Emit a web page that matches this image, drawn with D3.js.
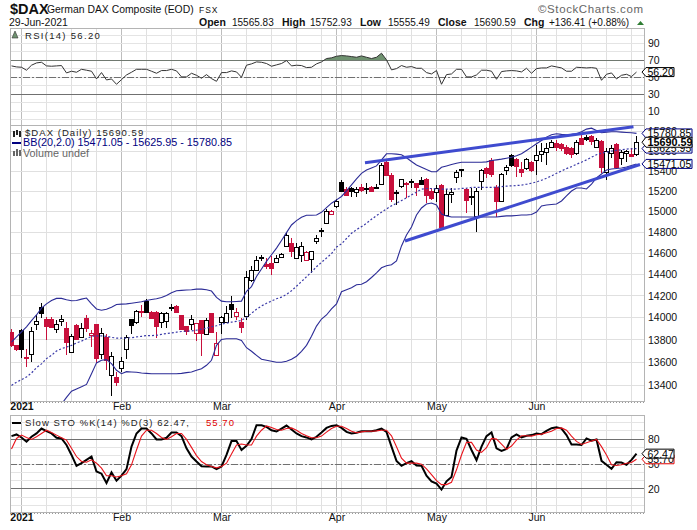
<!DOCTYPE html>
<html><head><meta charset="utf-8">
<script src="https://cdn.jsdelivr.net/npm/d3@7"></script>
<style>html,body{margin:0;padding:0;background:#fff}svg{display:block}text{font-family:"Liberation Sans",Arial,sans-serif}</style>
</head><body><div id="c"></div>
<script>
const opens=[13871,13750,13886,13644,13676,13935,14101,13990,13990,13892,13965,13904,13694,13932,13831,13993,13846,13941,13673,13825,13490,13467,13552,13720,13984,13962,14058,14154,14055,14055,13953,13972,14098,14104,14024,13920,13935,13858,13978,13846,14042,13670,13959,13956,14123,14008,13956,14017,
14342,14442,14562,14499,14505,14512,14562,14663,14694,14553,14578,14540,14543,14710,14817,14892,14969,15048,15295,15219,15226,15189,15239,15232,15245,15245,15275,15492,15361,15189,15245,15278,15298,15278,15314,15321,15203,15186,15262,14966,
15173,15344,15417,15219,15147,14960,15295,15427,15512,15245,15104,15410,15556,15519,15420,15427,15495,15505,15563,15590,15648,15682,15675,15641,15631,15580,15733,15740,15757,15648,15699,15387,15580,15675,15529,15580,15570,15565.83];
const highs=[13895,13755,13901,13720,13917,14024,14132,14002,14002,13978,14024,13959,13849,13938,13947,14024,13892,13945,13910,13849,13691,13514,13647,13840,13986,14070,14117,14169,14061,14061,14048,14055,14126,14117,14027,13920,14024,13950,13978,13993,14045,13871,14014,14107,14200,14086,13993,14427,
14480,14568,14584,14553,14575,14584,14600,14805,14742,14694,14701,14619,14622,14773,14836,15026,15015,15120,15311,15239,15239,15239,15272,15278,15252,15272,15478,15519,15384,15212,15324,15295,15318,15285,15344,15328,15229,15262,15268,15219,
15229,15410,15417,15229,15229,15229,15417,15444,15529,15262,15377,15461,15573,15529,15495,15529,15502,15665,15682,15682,15716,15716,15682,15665,15641,15709,15767,15767,15767,15733,15716,15631,15665,15682,15614,15607,15631,15752.93];
const lows=[13735,13700,13638,13558,13602,13886,13993,13794,13910,13862,13923,13661,13682,13794,13825,13868,13735,13594,13632,13529,13301,13387,13514,13632,13849,13941,14002,14039,13993,13819,13907,13907,14061,14045,13892,13843,13892,13788,13653,13843,13868,13670,13856,13953,13993,13978,13865,13978,
14332,14436,14521,14449,14395,14505,14553,14657,14559,14543,14512,14537,14411,14688,14751,14885,14966,15032,15199,15160,15137,15140,15196,15173,15189,15219,15268,15357,15097,15064,15229,15130,15229,15147,15262,15081,15114,15097,14837,14957,
15081,15278,15344,14982,15064,14804,15212,15328,15337,14950,15097,15360,15444,15344,15337,15410,15393,15360,15495,15461,15631,15597,15597,15563,15529,15563,15665,15699,15665,15631,15377,15311,15529,15437,15461,15495,15539,15555.49];
const closes=[13750,13712,13720,13632,13883,13965,14045,13923,13917,13938,13987,13779,13837,13806,13910,13898,13865,13638,13865,13617,13658,13422,13614,13828,13926,14058,14045,14052,13999,13926,14039,14045,14092,14052,13898,13877,13984,13947,13858,13974,13868,13773,14008,14039,14073,14048,13907,14374,
14439,14534,14556,14480,14458,14550,14590,14770,14616,14657,14663,14613,14616,14742,14811,15005,15002,15101,15206,15163,15199,15222,15206,15229,15206,15239,15461,15361,15120,15183,15318,15272,15291,15239,15278,15163,15130,15229,14853,15170,
15189,15393,15405,15114,15140,15203,15407,15377,15374,15104,15367,15437,15454,15444,15393,15516,15410,15556,15597,15631,15696,15638,15631,15580,15573,15692,15672,15716,15709,15716,15437,15597,15631,15444,15590,15604,15554.18,15690.59];
const priorClose=13900;
const bbUpper=[13779,13825,13871,13917,13972,14024,14086,14126,14157,14176,14176,14163,14154,14157,14169,14179,14126,14079,14067,14076,14095,14120,14123,14126,14132,14138,14145,14157,14166,14172,14185,14203,14228,14247,14250,14253,14256,14262,14262,14256,14244,14185,14151,14145,14145,14148,14151,14241,
14285,14379,14449,14521,14584,14647,14720,14795,14869,14911,14944,14963,14963,14966,14992,15037,15081,15114,15147,15203,15262,15321,15377,15410,15431,15451,15512,15573,15573,15570,15563,15533,15495,15461,15437,15414,15393,15393,15437,15451,
15465,15478,15488,15488,15488,15488,15488,15492,15505,15512,15519,15529,15539,15553,15573,15607,15641,15675,15709,15743,15767,15777,15771,15767,15771,15777,15798,15825,15835,15811,15788,15794,15798,15798,15794,15791,15788,15780.85];
const bbMid=[13396,13425,13446,13470,13505,13552,13585,13632,13661,13700,13720,13735,13750,13771,13788,13809,13831,13834,13834,13831,13821,13815,13815,13815,13819,13825,13831,13837,13837,13840,13849,13856,13862,13868,13874,13877,13880,13886,13895,13904,13917,13926,13941,13950,13959,13965,13975,14002,
14039,14076,14106,14131,14152,14173,14188,14213,14246,14289,14332,14377,14421,14471,14512,14553,14594,14657,14688,14739,14789,14824,14853,14885,14924,14960,14992,15025,15055,15081,15107,15134,15163,15189,15219,15226,15226,15222,15219,15219,
15219,15219,15226,15229,15236,15236,15236,15236,15236,15239,15245,15249,15252,15255,15259,15268,15278,15291,15308,15328,15351,15377,15400,15424,15444,15468,15488,15512,15539,15563,15580,15590,15601,15607,15614,15621,15624,15625.95];
const bbLower=[null,null,null,null,null,null,null,null,null,null,13234,13293,13346,13366,13384,13405,13499,13594,13617,13623,13588,13529,13499,13517,13514,13511,13505,13502,13499,13499,13499,13499,13499,13499,13502,13508,13514,13529,13543,13573,13617,13750,13803,13809,13809,13809,13794,13729,
13697,13661,13626,13617,13608,13599,13599,13608,13626,13653,13697,13750,13831,13923,13987,14024,14080,14126,14238,14256,14275,14303,14307,14331,14370,14414,14461,14480,14489,14526,14668,14773,14850,14966,15034,15073,15083,15063,14976,14957,
14947,14947,14947,14947,14947,14947,14947,14947,14947,14947,14952,14957,14957,14961,14966,14966,14971,14995,15054,15063,15068,15073,15103,15152,15201,15231,15231,15221,15270,15330,15370,15410,15420,15425,15430,15440,15455,15471.05];
const rsiValues=[63.5,62.3,61.9,58.4,64.3,67,67.8,63.5,63.1,63.5,63.9,55.2,57.2,56,59.5,58.4,57.2,48.1,55.6,46.9,48.1,41.8,47.3,52.8,56,59.5,59.5,59.5,57.2,54.8,58,58,59.5,57.6,50.5,50.5,54.8,52.4,48.9,53.2,48.5,45.3,55.6,55.6,57.6,56.4,50.1,64.3,65.9,68.2,67.8,66.3,63.1,64.7,66.3,69.8,63.5,64.3,63.9,61.5,61.9,65.9,68.2,72.2,73,74.9,75.7,75.3,
74.5,73.7,75.3,73.7,72.2,73.7,78.5,70.6,58.8,60.3,63.9,61.9,62.7,60.7,60.7,55.6,54,58,41.8,53.2,54,59.5,59.5,50.5,50.5,52.8,58.4,58.4,57.2,47.7,56.8,57.6,58,57.6,56.4,60.7,54.8,60.3,61.1,61.1,63.5,62.3,61.1,57.2,57.2,61.9,61.5,61.1,61.5,60.7,46.5,53.6,55.2,48.1,52.4,53.6,50.9,56.2];
const stoK=[83.6,85.6,82,76.8,82.8,86.8,92.7,89.5,86.8,81.6,80.8,72.9,60.9,47.8,51,55,59,41,38.3,27.2,39.9,29.9,35.9,43.8,70.9,86.8,92.7,92.7,86.8,79.6,79.6,81.6,88,88,83.6,68.9,59,53,47.4,47,47,43.8,47,60.9,77.6,77.6,66.9,72,80,96.7,96.7,94.7,90.7,89.1,92.7,96.3,91.5,86.8,83.6,82,79.6,82.8,88,93.5,95.9,96.7,93.5,88.7,
86.8,87.6,89.5,89.5,89.5,90.7,92.7,88.7,70.9,53.8,47.8,51,53.4,48.2,47.8,35.9,29.1,26.4,19.2,29.1,34.3,66.1,82,80.4,66.9,54.6,70.9,83.6,88,68.9,65.7,68.1,82,85.6,82,84,84.8,86.8,86,89.9,93.1,94.3,92.7,84.8,73.6,73.6,72.9,80.8,78,79.6,53.8,49,44.2,52.2,51.8,49,55,62.47];
const stoD=[68.1,80.8,84.8,82,79.6,82.8,86.8,90.7,88,84.8,81.6,78.8,68.9,59,53,52.2,55,51,45,35.9,35.9,34.3,35.9,38.3,49,66.9,83.6,90.7,90.7,86.8,82,79.6,82.8,86.8,86.8,79.6,70,60.1,53,49,47,45.4,47,51,62.1,72.9,74,72.9,72.9,83.6,90.7,95.9,93.9,91.5,90.7,92.7,93.5,90.7,86.8,84,81.6,81.6,83.6,88.4,92.7,95.5,95.5,92.7,
89.5,87.6,88.7,89.5,89.5,89.9,90.7,90.7,84,70.9,57,51,51,51,49.8,44.2,37.1,29.9,25.2,25.2,28,43,60.9,76,76,66.9,64.1,69.7,80.8,80,74,67.7,71.7,78.8,84,84,83.6,85.2,86,87.6,89.5,92.7,93.5,90.7,83.6,77.2,73.6,75.6,77.6,79.6,70.9,60.9,49,48.2,49,51,51.8,55.7];
const monthIndex=[2,22,42,65,85,105];
const monthLabels=["2021","Feb","Mar","Apr","May","Jun"];
const weekIndex=[7,12,17,27,32,37,47,52,57,62,66,70,75,80,90,95,100,104,109,114,119,124];
const priceTicks=[15800,15600,15400,15200,15000,14800,14600,14400,14200,14000,13800,13600,13400];
const trendUpper=[[70.7,15483],[124.4,15850]];
const trendLower=[[78.7,14715],[125.7,15465]];

const W=697,H=530,L=10,R=644;
const svg=d3.select("#c").append("svg").attr("width",W).attr("height",H);
const x=d3.scaleLinear().domain([0,125]).range([11.5,636.5]);
const yRsi=d3.scaleLinear().domain([0,100]).range([119.65,35]);
const yP=d3.scaleLog().domain([13400,15400]).range([385,171]);
const ySto=d3.scaleLinear().domain([0,100]).range([505.5,422.5]);
const panels=[{id:"p1",t:28,b:125},{id:"p2",t:125,b:401},{id:"p3",t:415,b:512}];
const defs=svg.append("defs");
panels.forEach(p=>defs.append("clipPath").attr("id",p.id).append("rect").attr("x",L).attr("y",p.t).attr("width",R-L).attr("height",p.b-p.t));
defs.append("clipPath").attr("id","above70").append("rect").attr("x",L).attr("y",28).attr("width",R-L).attr("height",yRsi(70)-28);

const grid=svg.append("g").attr("shape-rendering","crispEdges");
function vgrid(p){
  weekIndex.forEach(i=>grid.append("line").attr("x1",x(i)).attr("x2",x(i)).attr("y1",p.t).attr("y2",p.b).attr("stroke","#e0e0e0"));
  monthIndex.forEach(i=>grid.append("line").attr("x1",x(i)).attr("x2",x(i)).attr("y1",p.t).attr("y2",p.b).attr("stroke","#bdbdbd"));
}
panels.forEach(vgrid);
const tens=d3.range(0,101,10);
tens.forEach(v=>{
  if(yRsi(v)>28)grid.append("line").attr("x1",L).attr("x2",R).attr("y1",yRsi(v)).attr("y2",yRsi(v)).attr("stroke","#e4e4e4");
  grid.append("line").attr("x1",L).attr("x2",R).attr("y1",ySto(v)).attr("y2",ySto(v)).attr("stroke","#e4e4e4");
});
priceTicks.forEach(v=>grid.append("line").attr("x1",L).attr("x2",R).attr("y1",yP(v)).attr("y2",yP(v)).attr("stroke","#e0e0e0"));
[[yRsi,70,0],[yRsi,30,0],[yRsi,50,1],[ySto,80,0],[ySto,20,0],[ySto,50,1]].forEach(([s,v,d])=>{
  grid.append("line").attr("x1",L).attr("x2",R).attr("y1",s(v)).attr("y2",s(v)).attr("stroke","#707070").attr("stroke-dasharray",d?"7,2,2,2":null);
});

// panel frames
const frame=svg.append("g").attr("shape-rendering","crispEdges");
panels.forEach(p=>frame.append("rect").attr("x",L).attr("y",p.t).attr("width",R-L).attr("height",p.b-p.t).attr("fill","none").attr("stroke","#b4b4b4"));
[402,513].forEach(yy=>frame.append("line").attr("x1",L).attr("x2",R).attr("y1",yy).attr("y2",yy).attr("stroke","#999").attr("stroke-dasharray","1,2"));

// RSI
const idx=d3.range(closes.length);
const rsiG=svg.append("g").attr("clip-path","url(#p1)");
rsiG.append("path").datum(idx).attr("clip-path","url(#above70)").attr("fill","#6f9270")
 .attr("d",d3.area().x(i=>x(i)).y0(yRsi(70)).y1(i=>yRsi(rsiValues[i])));
rsiG.append("path").datum(idx).attr("fill","none").attr("stroke","#333").attr("stroke-width",1)
 .attr("d",d3.line().x(i=>x(i)).y(i=>yRsi(rsiValues[i])));

// price
const pG=svg.append("g").attr("clip-path","url(#p2)");
const bbLine=arr=>d3.line().defined(i=>arr[i]!=null).x(i=>x(i)).y(i=>yP(arr[i]));
const red="#c8103c",blk="#000";
const cG=pG.append("g").attr("shape-rendering","crispEdges");
idx.forEach(i=>{
  const prev=i?closes[i-1]:priorClose,c=closes[i],o=opens[i];
  const col=c<prev?red:blk,hollow=c>o;
  const X=Math.round(x(i)-.5)+.5;
  cG.append("line").attr("x1",X).attr("x2",X).attr("y1",yP(highs[i])).attr("y2",yP(lows[i])).attr("stroke",col);
  const top=yP(Math.max(o,c)),bot=yP(Math.min(o,c));
  cG.append("rect").attr("x",X-2).attr("width",4).attr("y",Math.round(top)+.5).attr("height",Math.max(1,Math.round(bot-top)))
    .attr("fill",hollow?"#fff":col).attr("stroke",col);
});
pG.append("path").datum(idx).attr("fill","none").attr("stroke","#2b2b96").attr("stroke-width",1.1).attr("d",bbLine(bbUpper));
pG.append("path").datum(idx).attr("fill","none").attr("stroke","#2b2b96").attr("stroke-width",1.1).attr("d",bbLine(bbLower));
pG.append("path").datum(idx).attr("fill","none").attr("stroke","#3a3aa8").attr("stroke-width",1.2).attr("stroke-dasharray","2,2").attr("d",bbLine(bbMid));
[trendUpper,trendLower].forEach(t=>pG.append("path").datum(t).attr("fill","none").attr("stroke","#3f4bcf").attr("stroke-width",3)
  .attr("d",d3.line().x(d=>x(d[0])).y(d=>yP(d[1]))));

// stochastic
const sG=svg.append("g").attr("clip-path","url(#p3)");
sG.append("path").datum(idx).attr("fill","none").attr("stroke","#000").attr("stroke-width",2)
 .attr("d",d3.line().x(i=>x(i)).y(i=>ySto(stoK[i])));
sG.append("path").datum(idx).attr("fill","none").attr("stroke","#e8141c").attr("stroke-width",1.1)
 .attr("d",d3.line().x(i=>x(i)).y(i=>ySto(stoD[i])));

// axes
function yAxis(scale,ticks,fmt){
  const g=svg.append("g").attr("transform",`translate(${R+1},0)`)
   .call(d3.axisRight(scale).tickValues(ticks).tickSize(0).tickPadding(3).tickFormat(fmt));
  g.select(".domain").remove();
  g.selectAll("text").attr("font-family",'"Liberation Sans",Arial,sans-serif').attr("font-size",10.5).attr("fill","#111");
}
yAxis(yRsi,[90,70,50,30,10],d3.format("d"));
yAxis(yP,priceTicks,d3.format("d"));
yAxis(ySto,[80,50,20],d3.format("d"));
[[402],[513]].forEach(([yy])=>{
  const g=svg.append("g").attr("transform",`translate(0,${yy})`)
    .call(d3.axisBottom(x).tickValues(monthIndex).tickSize(0).tickPadding(1).tickFormat((d,i)=>monthLabels[i]));
  g.select(".domain").remove();
  g.selectAll("text").attr("font-family",'"Liberation Sans",Arial,sans-serif').attr("font-size",10.5).attr("fill","#111")
    .attr("font-weight",(d,i)=>i==0?"bold":null);
});

// header text
const T=(s,X,Y,size,o={})=>svg.append("text").attr("x",X).attr("y",Y).attr("font-size",size)
  .attr("font-weight",o.b?"bold":null).attr("fill",o.c||"#111").attr("letter-spacing",o.ls||null)
  .attr("font-family",o.f||null).text(s);
T("$DAX",10,14,14.5,{b:1});
T("German DAX Composite (EOD)",47,13,10.4);
T("FSX",199,13,8.5,{ls:1});
T("29-Jun-2021",9,26,10.5);
T("Open",199,26,10.5,{b:1});T("15565.83",232,26,10);
T("High",282,26,10.5,{b:1});T("15752.93",310,26,10);
T("Low",360,26,10.5,{b:1});T("15555.49",388,26,10);
T("Close",438,26,10.5,{b:1});T("15690.59",474,26,10);
T("Chg",524,26,10.5,{b:1});T("+136.41 (+0.88%)",549,26,10);
svg.append("path").attr("d","M637 25h7l-3.5-4z").attr("fill","#2e7d32");
T("\u00a9StockCharts.com",538,13,11.5,{c:"#666",ls:.6});

const mono='"DejaVu Sans",sans-serif';
T("RSI(14) 56.20",25,39,9.5,{f:mono,ls:1.3,c:"#222"});
T("$DAX (Daily) 15690.59",25,136,9.5,{f:mono,ls:1.05,c:"#222"});
T("BB(20,2.0) 15471.05 - 15625.95 - 15780.85",23,146,10.8,{c:"#000080"});
T("Volume undef",23,157,10.8,{c:"#666"});
T("Slow STO %K(14) %D(3) 62.47, ",25,426,9.5,{f:mono,ls:1.05,c:"#222"});
T("55.70",206,426,9.5,{f:mono,ls:1.05,c:"#e00000"});

// small legend icons
svg.append("path").attr("d","M12 38l3-7 3 7z").attr("fill","#6f9270").attr("stroke","#333").attr("stroke-width",.6);
const ic=svg.append("g").attr("shape-rendering","crispEdges");
[[13,131,6],[16,130,5],[19,131,6]].forEach(([a,b,c])=>ic.append("rect").attr("x",a).attr("y",b).attr("width",2).attr("height",c).attr("fill","#222"));
ic.append("rect").attr("x",12).attr("y",142).attr("width",9).attr("height",2).attr("fill","#000080");
[[13,151,5],[16,149,7],[19,150,6]].forEach(([a,b,c])=>ic.append("rect").attr("x",a).attr("y",b).attr("width",2).attr("height",c).attr("fill","#666"));
ic.append("rect").attr("x",12).attr("y",422).attr("width",9).attr("height",2).attr("fill","#000");

// value tags
function tag(yy,h,right,label,col,bold,size){
  const t=yy-h/2,b=yy+h/2,X0=642,X1=646;
  svg.append("path").attr("d",`M${X0} ${yy}L${X1} ${t}H${right}V${b}H${X1}Z`).attr("fill","#fff").attr("stroke",col);
  svg.append("text").attr("x",X1+1.5).attr("y",yy+size*.37).attr("font-size",size).attr("font-weight",bold?"bold":null)
    .attr("fill","#000").text(label);
}
tag(yP(15780.85),9,692,"15780.85","#000080",false,10.5);
tag(yP(15625.95),9,692,"15625.95","#000080",false,10.5);
tag(yP(15471.05),9,692,"15471.05","#000080",false,10.5);
tag(yP(15690.59),10,692,"15690.59","#000",true,10.8);
tag(yRsi(56.2),9,674,"56.20","#000",false,10.5);
tag(ySto(55.7),9,674,"55.70","#e00000",false,10.5);
tag(ySto(62.47),9,674,"62.47","#000",false,10.5);
</script></body></html>
